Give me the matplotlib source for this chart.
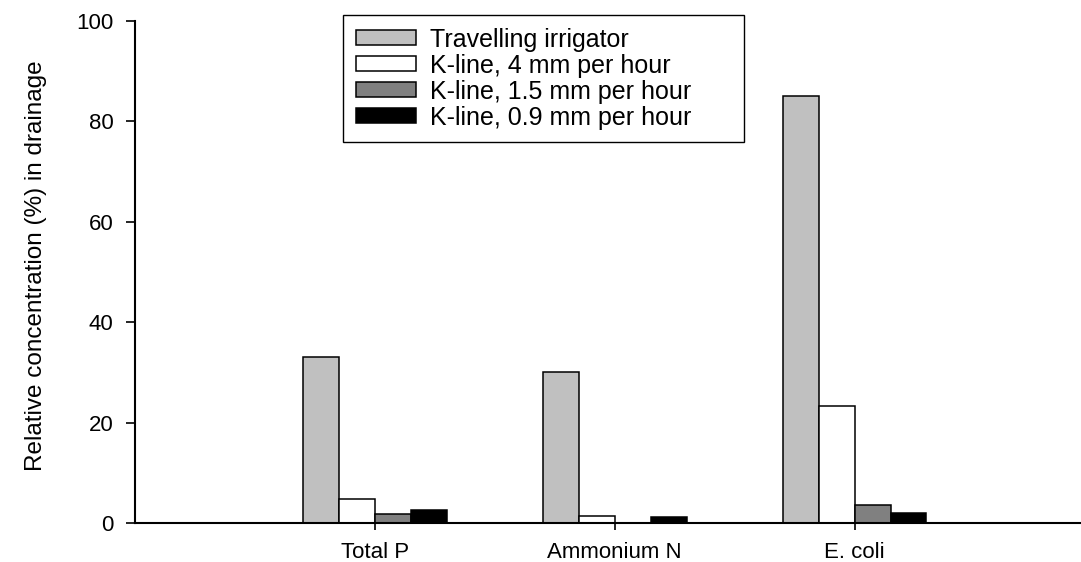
import numpy as np
import matplotlib.pyplot as plt

categories = ['Total P', 'Ammonium N', 'E. coli']
series_names = ['Travelling irrigator', 'K-line, 4 mm per hour',
                'K-line, 1.5 mm per hour', 'K-line, 0.9 mm per hour']
travelling = [33.0, 30.0, 85.0]
kline_4 = [4.7, 1.3, 23.4]
kline_15 = [1.8, 0.0, 3.5]
kline_09 = [2.5, 1.1, 1.9]
y_ticks = [0, 20, 40, 60, 80, 100]

if __name__ == '__main__':
    plt.rcParams['font.family'] = ['Liberation Sans', 'DejaVu Sans']

    fig = plt.figure(figsize=(10.81, 5.62), dpi=100)
    ax = fig.add_axes([135 / 1081, 39 / 562, 945 / 1081, 502 / 562])

    x = np.arange(1, len(categories) + 1)
    width = 0.15
    colors = ['#c0c0c0', '#ffffff', '#808080', '#000000']
    values = [travelling, kline_4, kline_15, kline_09]
    for i, (vals, name, col) in enumerate(zip(values, series_names, colors)):
        ax.bar(x + (i - 2) * width, vals, width, align='edge', color=col,
               edgecolor='black', linewidth=1.1, label=name)

    ax.set_xlim(0, 3.94)
    ax.set_ylim(0, 100)
    ax.set_xticks(x)
    ax.set_xticklabels(categories)
    ax.set_yticks(y_ticks)

    for side in ['top', 'right']:
        ax.spines[side].set_visible(False)
    for side in ['left', 'bottom']:
        ax.spines[side].set_linewidth(1.5)

    ax.tick_params(axis='y', direction='out', length=6.5, width=1.2,
                   labelsize=16, pad=9)
    ax.tick_params(axis='x', direction='out', length=5, width=1.2,
                   labelsize=16, pad=9)

    ax.set_ylabel('Relative concentration (%) in drainage', fontsize=17.5)
    ax.yaxis.set_label_coords(-0.093, 0.513)

    leg = ax.legend(loc='upper left', mode='expand',
                    bbox_to_anchor=(343 / 1081, 1 - 15 / 562 - 0.01, 401 / 1081, 0.01),
                    bbox_transform=fig.transFigure, fontsize=18,
                    handlelength=2.4, handleheight=0.56, handletextpad=0.6,
                    labelspacing=0.08, borderpad=0.5, borderaxespad=0,
                    fancybox=False, framealpha=1, edgecolor='black')
    leg.get_frame().set_linewidth(1.0)

    fig.savefig('out.png', dpi=100)
